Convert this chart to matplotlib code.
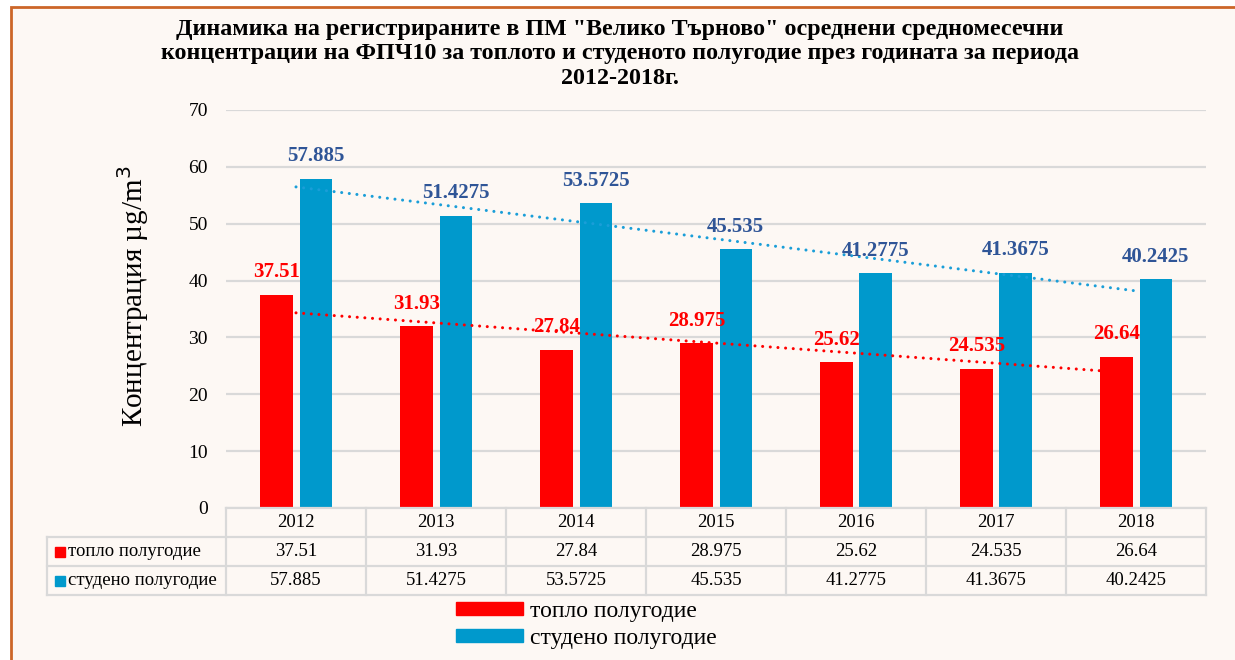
import numpy as np
import matplotlib.pyplot as plt
from matplotlib.patches import Rectangle, Patch

plt.rcParams['font.family'] = ['Liberation Serif', 'DejaVu Serif']

# data
years = ['2012', '2013', '2014', '2015', '2016', '2017', '2018']
warm = [37.51, 31.93, 27.84, 28.975, 25.62, 24.535, 26.64]
cold = [57.885, 51.4275, 53.5725, 45.535, 41.2775, 41.3675, 40.2425]
names = ['топло полугодие', 'студено полугодие']

red = '#FF0000'
blue = '#0099CC'
lbl_blue = '#2F5597'
grid_c = '#D9D9D9'

W, H = 1235, 660
fig = plt.figure(figsize=(W / 100, H / 100), dpi=100)
fig.patch.set_facecolor('white')

# cream panel with orange frame (runs off right/bottom edge)
fig.patches.append(Rectangle((11 / W, -0.05), 1.1, 1 - 7 / H + 0.05,
                             transform=fig.transFigure, facecolor='#FDF8F4',
                             edgecolor='#CC6628', linewidth=2, zorder=-10))

def px(x0, y0, x1, y1):
    return [x0 / W, 1 - y1 / H, (x1 - x0) / W, (y1 - y0) / H]

ax = fig.add_axes(px(226, 110, 1206, 508))
ax.set_facecolor('none')
x = np.arange(len(years))
bw = 0.23
ax.bar(x - 0.14, warm, bw, color=red, zorder=3)
ax.bar(x + 0.14, cold, bw, color=blue, zorder=3)

for xi, v in zip(x, warm):
    ax.annotate(str(v), (xi - 0.14, v), xytext=(0, 9), textcoords='offset points',
                ha='center', va='bottom', fontsize=15, fontweight='bold', color=red,
                zorder=5)
for xi, v in zip(x, cold):
    ax.annotate(str(v), (xi + 0.14, v), xytext=(0, 9), textcoords='offset points',
                ha='center', va='bottom', fontsize=15, fontweight='bold', color=lbl_blue,
                zorder=5)

# linear trend lines
for vals, c in [(warm, red), (cold, '#1A9ED8')]:
    k, b = np.polyfit(x, vals, 1)
    ax.plot([x[0], x[-1]], [k * x[0] + b, k * x[-1] + b], color=c, lw=2.2,
            linestyle=(0, (0.01, 2.5)), dash_capstyle='round', zorder=4)

ax.set_xlim(-0.5, 6.5)
ax.set_ylim(0, 70)
ax.set_yticks(range(0, 71, 10))
ax.tick_params(axis='y', length=0, labelsize=14, pad=13)
ax.set_xticks([])
ax.grid(axis='y', color=grid_c, lw=1.6, zorder=1)
for s in ax.spines.values():
    s.set_visible(False)

fig.text(133 / W, 1 - 296 / H, 'Концентрация µg/m$^3$', rotation=90,
         ha='center', va='center', fontsize=21)

fig.text(620 / W, 1 - 54 / H,
         'Динамика на регистрираните в ПМ "Велико Търново" осреднени средномесечни\n'
         'концентрации на ФПЧ10 за топлото и студеното полугодие през годината за периода\n'
         '2012-2018г.', ha='center', va='center', fontsize=17.3, fontweight='bold',
         linespacing=1.2)

# data table under the axis
tx = fig.add_axes(px(47, 508, 1206, 595))
tx.set_facecolor('none')
left = -0.5 - (226 - 47) / 140
tx.set_xlim(left, 6.5)
tx.set_ylim(3, 0)
tx.axis('off')
lk = dict(color=grid_c, lw=1.6, clip_on=False)
tx.plot([-0.5, 6.5], [0, 0], **lk)
for r in (1, 2, 3):
    tx.plot([left, 6.5], [r, r], **lk)
tx.plot([left, left], [1, 3], **lk)
for i in range(len(years) + 1):
    tx.plot([i - 0.5, i - 0.5], [0, 3], **lk)
for i, yr in enumerate(years):
    tx.text(i, 0.5, yr, ha='center', va='center', fontsize=13.5)
    tx.text(i, 1.5, str(warm[i]), ha='center', va='center', fontsize=13.5)
    tx.text(i, 2.5, str(cold[i]), ha='center', va='center', fontsize=13.5)
for r, (nm, c) in enumerate(zip(names, [red, blue])):
    tx.plot([left + 0.095], [r + 1.5], marker='s', ms=6.5, color=c, clip_on=False)
    tx.text(left + 0.15, r + 1.5, nm, ha='left', va='center', fontsize=13.5)

handles = [Patch(color=red, label=names[0]), Patch(color=blue, label=names[1])]
fig.legend(handles=handles, loc='upper left', bbox_to_anchor=(456 / W, 1 - 601 / H),
           frameon=False, fontsize=17, handlelength=2.85, handleheight=0.5,
           handletextpad=0.3, labelspacing=0.25, borderaxespad=0, borderpad=0)

fig.savefig('out.png', dpi=100)
